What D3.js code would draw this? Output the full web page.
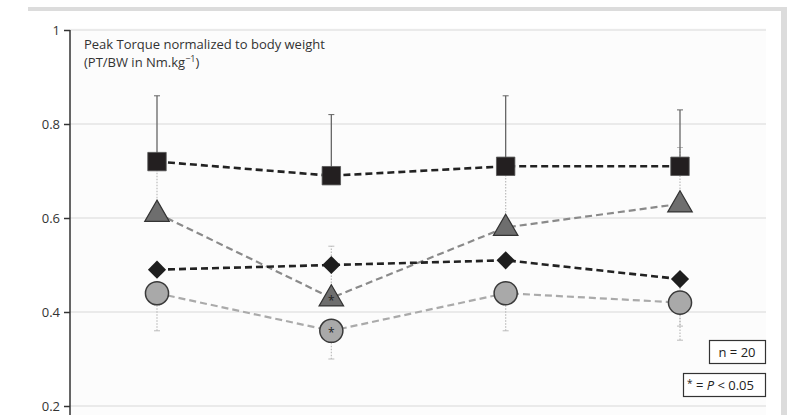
<!DOCTYPE html>
<html><head><meta charset="utf-8">
<script src="https://cdn.jsdelivr.net/npm/d3@7"></script>
<style>body{margin:0;background:#fff}svg{display:block;font-family:"Open Sans",Lato,sans-serif}</style>
</head><body>
<svg id="c" width="794" height="415"></svg>
<script>
const sessions = [1, 2, 3, 4];
const yTicks = [0.2, 0.4, 0.6, 0.8, 1];
const squareVals = [0.72, 0.69, 0.71, 0.71];
const squareUpper = [0.86, 0.82, 0.86, 0.83];
const triangleVals = [0.61, 0.43, 0.58, 0.63];
const triangleUpper = [0.72, 0.54, 0.71, 0.75];
const diamondVals = [0.49, 0.50, 0.51, 0.47];
const diamondLower = [null, null, null, 0.37];
const circleVals = [0.44, 0.36, 0.44, 0.42];
const circleLower = [0.36, 0.30, 0.36, 0.34];
const significant = [false, true, false, false];

const svg = d3.select("#c");
// frame
svg.append("rect").attr("x",28).attr("y",7).attr("width",759).attr("height",4).attr("fill","#dcdcdc");
svg.append("rect").attr("x",781).attr("y",7).attr("width",6).attr("height",408).attr("fill","#dcdcdc");

const x = d3.scalePoint().domain(sessions).range([157, 680]);
const y = d3.scaleLinear().domain([0.2, 1]).range([406, 30]);

svg.append("rect").attr("x",70).attr("y",28).attr("width",696).attr("height",387).attr("fill","#fcfcfc");
svg.append("g").selectAll("line").data(yTicks).join("line")
  .attr("x1",70).attr("x2",766).attr("y1",d=>y(d)).attr("y2",d=>y(d))
  .attr("stroke","#d8d8d8").attr("stroke-width",1);

const axis = svg.append("g").attr("transform","translate(70,0)")
  .call(d3.axisLeft(y).tickValues(yTicks).tickFormat(d=>d===1?"1":d3.format(".1f")(d)).tickSize(6).tickPadding(4));
axis.select(".domain").attr("d","M0,30V415").attr("stroke","#333").attr("stroke-width",1.5);
axis.selectAll(".tick line").attr("stroke","#333").attr("stroke-width",1.5);
axis.selectAll(".tick text").attr("font-size",13).attr("fill","#333").attr("font-family","'Open Sans',sans-serif");

// title
const t = svg.append("text").attr("x",84).attr("y",49).attr("font-size",13).attr("fill","#333");
t.text("Peak Torque normalized to body weight");
const t2 = svg.append("text").attr("x",84).attr("y",67).attr("font-size",13).attr("fill","#333");
t2.append("tspan").text("(PT/BW in Nm.kg");
t2.append("tspan").attr("dy",-5).attr("font-size",9).text("\u22121");
t2.append("tspan").attr("dy",5).text(")");

// error bars
function errBars(vals, ends, stroke, dash, w) {
  const g = svg.append("g");
  sessions.forEach((s,i)=>{
    if (ends[i]==null) return;
    g.append("line").attr("x1",x(s)).attr("x2",x(s)).attr("y1",y(vals[i])).attr("y2",y(ends[i]))
      .attr("stroke",stroke).attr("stroke-width",w).attr("stroke-dasharray",dash);
    g.append("line").attr("x1",x(s)-3).attr("x2",x(s)+3).attr("y1",y(ends[i])).attr("y2",y(ends[i]))
      .attr("stroke",stroke).attr("stroke-width",1);
  });
}
errBars(circleVals, circleLower, "#bbb", "1.5,1.5", 1.2);
errBars(diamondVals, diamondLower, "#bbb", "1.5,1.5", 1.2);
errBars(triangleVals, triangleUpper, "#bbb", "1.5,1.5", 1.2);
errBars(squareVals, squareUpper, "#666", null, 1.3);

// lines
const line = d3.line().x((d,i)=>x(sessions[i])).y(d=>y(d));
function dashed(vals, stroke, w, dash){
  svg.append("path").attr("d",line(vals)).attr("fill","none").attr("stroke",stroke)
    .attr("stroke-width",w).attr("stroke-dasharray",dash);
}
dashed(triangleVals, "#8a8a8a", 2.2, "7,4");
dashed(circleVals, "#aaaaaa", 2.2, "7,4");
dashed(diamondVals, "#222", 2.6, "7,4");
dashed(squareVals, "#222", 2.6, "7,4");

// markers
const sym = (type,size)=>d3.symbol().type(type).size(size)();
svg.append("g").selectAll("path").data(circleVals).join("path")
  .attr("transform",(d,i)=>`translate(${x(sessions[i])},${y(d)})`)
  .attr("d",sym(d3.symbolCircle,420)).attr("fill","#a9a9a9").attr("stroke","#3a3a3a").attr("stroke-width",1.5);
svg.append("g").selectAll("path").data(diamondVals).join("path")
  .attr("transform",(d,i)=>`translate(${x(sessions[i])},${y(d)}) rotate(45)`)
  .attr("d",sym(d3.symbolSquare,165)).attr("fill","#1e1e1e");
svg.append("g").selectAll("path").data(triangleVals).join("path")
  .attr("transform",(d,i)=>`translate(${x(sessions[i])},${y(d)+1})`)
  .attr("d",sym(d3.symbolTriangle,260)).attr("fill","#6e6e6e").attr("stroke","#333").attr("stroke-width",1.2);
svg.append("g").selectAll("path").data(squareVals).join("path")
  .attr("transform",(d,i)=>`translate(${x(sessions[i])},${y(d)})`)
  .attr("d",sym(d3.symbolSquare,340)).attr("fill","#231f20").attr("stroke","#555").attr("stroke-width",0.8);

// significance asterisks
[[triangleVals,3],[circleVals,2]].forEach(([vals,dy])=>{
  sessions.forEach((s,i)=>{
    if(!significant[i]) return;
    svg.append("text").attr("x",x(s)).attr("y",y(vals[i])+dy+4).attr("text-anchor","middle")
      .attr("font-size",12).attr("fill","#222").text("*");
  });
});

// legend boxes
svg.append("rect").attr("x",709.5).attr("y",340.5).attr("width",56).attr("height",23).attr("fill","#fff").attr("stroke","#333").attr("stroke-width",1.2);
svg.append("text").attr("x",737).attr("y",357).attr("text-anchor","middle").attr("font-size",13).attr("fill","#222").text("n = 20");
svg.append("rect").attr("x",683.5).attr("y",373.5).attr("width",82).attr("height",23).attr("fill","#fff").attr("stroke","#333").attr("stroke-width",1.2);
const lt = svg.append("text").attr("x",687).attr("y",390).attr("font-size",13).attr("fill","#222");
lt.append("tspan").attr("dy",-3).attr("font-size",10).text("*");
lt.append("tspan").attr("dy",3).text(" = ");
lt.append("tspan").attr("font-style","italic").text("P");
lt.append("tspan").text(" < 0.05");
</script>
</body></html>
